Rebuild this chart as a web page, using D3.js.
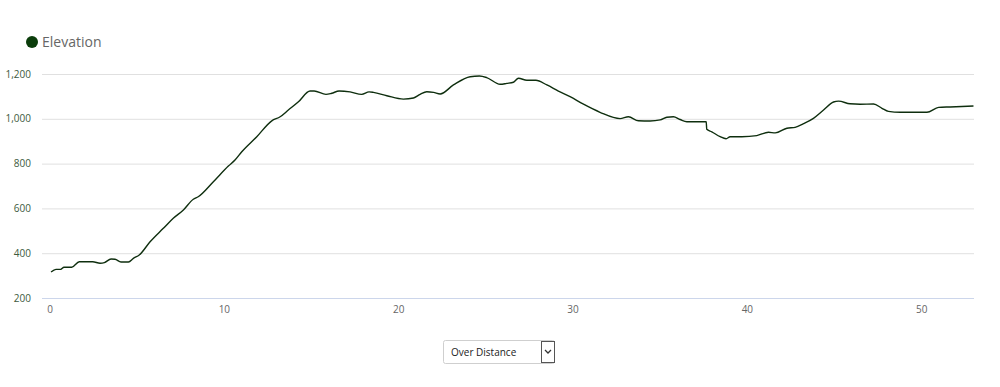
<!DOCTYPE html>
<html><head><meta charset="utf-8">
<script src="https://cdnjs.cloudflare.com/ajax/libs/d3/7.8.5/d3.min.js"></script>
<style>
html,body{margin:0;padding:0;background:#fff;}
svg{display:block;font-family:"Open Sans",sans-serif;}
</style></head>
<body><svg id="c" width="1000" height="387"></svg>
<script>
const seriesName = "Elevation";
const distance = [0.06,0.34,0.61,0.8,1.24,1.68,2.45,2.87,3.12,3.5,3.73,4.07,4.5,4.78,5.12,5.74,6.5,7.07,7.65,8.22,8.5,9.37,10.23,10.61,11.0,11.86,12.72,13.2,13.67,14.25,14.92,15.15,15.83,16.16,16.58,17.21,17.88,18.3,18.55,19.32,20.27,20.85,21.23,21.61,22.0,22.38,23.14,24.1,24.63,25.05,25.82,26.2,26.58,26.87,27.35,27.87,28.5,29.16,29.83,30.6,31.55,32.7,33.18,33.75,34.42,35.0,35.38,35.76,36.14,36.53,37.64,37.67,37.96,38.44,38.78,39.01,39.68,40.54,41.21,41.6,42.27,42.74,43.22,43.79,44.37,44.94,45.23,45.89,46.47,47.24,47.72,48.09,48.77,50.3,50.97,51.63,52.97];
const elevation = [316,328,328,337,337,362,362,355,358,374,373,361,361,377,392,451,511,556,593,641,652,719,789,816,853,920,991,1009,1039,1076,1124,1124,1109,1114,1124,1120,1109,1120,1118,1103,1088,1093,1109,1121,1118,1111,1151,1188,1191,1184,1154,1158,1163,1181,1172,1172,1151,1124,1099,1065,1029,1001,1009,991,990,995,1007,1009,997,987,987,953,942,920,911,920,920,925,940,937,958,962,978,1002,1039,1075,1079,1067,1065,1066,1047,1033,1029,1029,1051,1053,1057];
const yTicks = [200,400,600,800,1000,1200];
const xTicks = [0,10,20,30,40,50];
const selectLabel = "Over Distance";

const svg = d3.select("#c");
const x = d3.scaleLinear().domain([-0.46,53]).range([42,974]);
const y = d3.scaleLinear().domain([200,1200]).range([298,74]);

svg.append("g").selectAll("line").data(yTicks.filter(t=>t>200)).join("line")
  .attr("x1",42).attr("x2",974).attr("y1",d=>y(d)+0.5).attr("y2",d=>y(d)+0.5)
  .attr("stroke","#e0e0e0").attr("stroke-width",1);
svg.append("line").attr("x1",42).attr("x2",974).attr("y1",y(200)+0.5).attr("y2",y(200)+0.5)
  .attr("stroke","#ccd6eb").attr("stroke-width",1);

svg.append("g").selectAll("text").data(yTicks).join("text")
  .attr("x",31).attr("y",d=>y(d)+3.5).attr("text-anchor","end")
  .attr("font-size",10).attr("fill","#3d5a3d")
  .text(d=>d3.format(",")(d));
svg.append("g").selectAll("text").data(xTicks).join("text")
  .attr("x",d=>x(d)).attr("y",313).attr("text-anchor","middle")
  .attr("font-size",10).attr("fill","#666")
  .text(d=>d);

const pts = distance.map((d,i)=>[d,elevation[i]]);
svg.append("path").datum(pts)
  .attr("d",d3.line().x(d=>x(d[0])).y(d=>y(d[1])).curve(d3.curveMonotoneX))
  .attr("fill","none").attr("stroke","#0e2e0e").attr("stroke-width",1.4)
  .attr("stroke-linejoin","round");

svg.append("circle").attr("cx",32).attr("cy",42).attr("r",6).attr("fill","#0b3d0b");
svg.append("text").attr("x",42).attr("y",47).attr("font-size",14).attr("fill","#666").text(seriesName);

const s = svg.append("g");
s.append("rect").attr("x",443.5).attr("y",340.5).attr("width",111).attr("height",23).attr("rx",2)
  .attr("fill","#fff").attr("stroke","#cfcfcf");
s.append("rect").attr("x",541.5).attr("y",341.5).attr("width",13).attr("height",21)
  .attr("fill","#fff").attr("stroke","#555");
s.append("path").attr("d","M545,350 L548,353 L551,350").attr("fill","none").attr("stroke","#333").attr("stroke-width",1.3);
s.append("text").attr("x",451).attr("y",356).attr("font-size",10).attr("fill","#222").text(selectLabel);
</script></body></html>
